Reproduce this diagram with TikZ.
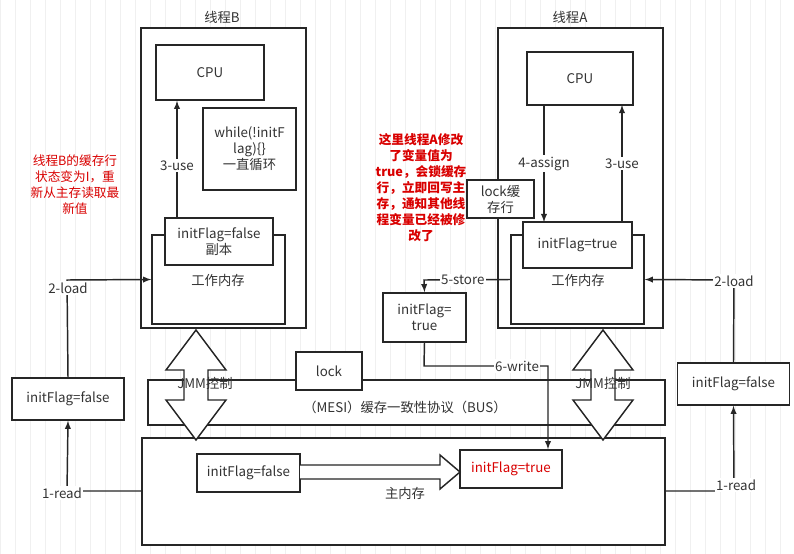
\documentclass[tikz,border=0pt]{standalone}
\usepackage{fontspec}
\setmainfont{Noto Sans CJK SC}
\begin{document}
\begin{tikzpicture}[x=0.75pt,y=-0.75pt,
  box/.style={draw=black!85,line width=1.2pt,fill=white},
  lbl/.style={font=\fontsize{10}{12}\selectfont,text=black!80},
  tag/.style={lbl,fill=white,inner sep=1pt},
  red/.style={font=\fontsize{9.5}{12}\selectfont,text=red!85!black,align=center},
  ln/.style={draw=black!85,line width=1.1pt},
  ar/.style={ln,-latex}]
\useasboundingbox (0,0) rectangle (794,554);
\fill[white] (0,0) rectangle (794,554);
\draw[black!6,line width=0.4pt] (0,0) grid[step=15] (794,554);
% thread B
\node[box,minimum width=165*0.75pt,minimum height=300*0.75pt] (tB) at (223.5,178) {};
\node[lbl] (tBl) at (222,17) {线程B};
\node[box,minimum width=108*0.75pt,minimum height=55*0.75pt,lbl] (cpuB) at (210,72.5) {CPU};
\node[box,minimum width=93*0.75pt,minimum height=82*0.75pt,lbl,align=center] (wh) at (249.5,149) {while(!initF\\lag)\{\}\\一直循环};
\node[box,minimum width=133*0.75pt,minimum height=89*0.75pt] (wmB) at (218.5,279.5) {};
\node[lbl] (wmBl) at (218,280) {工作内存};
\node[box,minimum width=108*0.75pt,minimum height=47*0.75pt,lbl,align=center,inner sep=1pt] (cB) at (219,241.5) {initFlag=false\\副本};
\draw[ar] (177,218) -- node[tag,pos=0.45] (u3B) {3-use} (cpuB.south -| 177,0);
% left side
\node[box,minimum width=112*0.75pt,minimum height=42*0.75pt,lbl] (lB) at (68,399) {initFlag=false};
\node[red] (rB) at (75,185) {线程B的缓存行\\状态变为I，重\\新从主存读取最\\新值};
% thread A
\node[box,minimum width=165*0.75pt,minimum height=300*0.75pt] (tA) at (580.5,178) {};
\node[lbl] (tAl) at (570,17) {线程A};
\node[box,minimum width=106*0.75pt,minimum height=53*0.75pt,lbl] (cpuA) at (580,78.5) {CPU};
\node[box,minimum width=133*0.75pt,minimum height=89*0.75pt] (wmA) at (577.5,279.5) {};
\node[lbl] (wmAl) at (578,280) {工作内存};
\node[box,minimum width=109*0.75pt,minimum height=46*0.75pt,lbl] (cA) at (577.5,245) {initFlag=true};
\node[box,minimum width=67*0.75pt,minimum height=38*0.75pt,lbl,align=center,inner sep=1pt] (lk) at (500.5,199) {lock缓\\存行};
\draw[ar] (544,105) -- node[tag,pos=0.5] (a4) {4-assign} (544,222);
\draw[ar] (622,222) -- node[tag,pos=0.5] (u3A) {3-use} (622,105);
\node[red,font=\bfseries\fontsize{9.5}{12}\selectfont] (rA) at (421,188) {这里线程A修改\\了变量值为\\true，会锁缓存\\行，立即回写主\\存，通知其他线\\程变量已经被修\\改了};
\node[box,minimum width=112*0.75pt,minimum height=42*0.75pt,lbl] (rBx) at (733.5,384) {initFlag=false};
% store box
\node[box,minimum width=83*0.75pt,minimum height=49*0.75pt,lbl,align=center,inner sep=1pt] (st) at (424.5,317.5) {initFlag=\\true};
% bus
\node[box,minimum width=517*0.75pt,minimum height=45*0.75pt] (bus) at (406.5,402.5) {};
\node[lbl] (busl) at (405,407) {（MESI）缓存一致性协议（BUS）};
\node[box,minimum width=66*0.75pt,minimum height=38*0.75pt,lbl] (lock) at (329,371) {lock};
% main memory
\node[box,minimum width=523*0.75pt,minimum height=107*0.75pt] (mm) at (403.5,491.5) {};
\node[lbl] (mml) at (405,493) {主内存};
\node[box,minimum width=103*0.75pt,minimum height=38*0.75pt,lbl] (mf) at (248.5,473) {initFlag=false};
\node[box,minimum width=102*0.75pt,minimum height=38*0.75pt,lbl,text=red!85!black] (mt) at (511,469) {initFlag=true};
\draw[box,line width=1.1pt] (300,465) -- (440,465) -- (440,455) -- (460,472) -- (440,489) -- (440,479) -- (300,479);
% JMM arrows
\foreach \cx/\nm in {196/jB,603/jA}{
  \draw[box,line width=1.1pt] (\cx,330) -- ++(30,40) -- ++(-18,0) -- ++(0,30) -- ++(18,0) -- (\cx,440) -- ++(-30,-40) -- ++(18,0) -- ++(0,-30) -- ++(-18,0) -- cycle;
}
\node[lbl,inner sep=0pt] (jBl) at (205,383) {JMM控制};
\node[lbl,inner sep=0pt] (jAl) at (603,383) {JMM控制};
% connectors
\coordinate (c5) at (424,280);
\draw[ar] (wmA.west) -- node[tag,pos=0.55] (s5) {5-store} (c5) -- (st.north);
\coordinate (c6a) at (424,366);
\coordinate (c6b) at (548,366);
\draw[ar] (st.south) -- (c6a) -- node[tag,pos=0.75] (w6) {6-write} (c6b) -- (mt.north -| c6b);
\coordinate (l2) at (67,280);
\draw[ar] (lB.north) -- (l2) -- (wmB.west);
\node[tag] (ld2B) at (68,288) {2-load};
\coordinate (l1) at (67,491);
\draw[ar] (mm.west |- l1) -- (l1) -- (lB.south);
\node[tag] (rd1B) at (62,493) {1-read};
\coordinate (r2) at (734,280);
\draw[ar] (rBx.north) -- (r2) -- (wmA.east);
\node[tag] (ld2A) at (734,281) {2-load};
\coordinate (r1) at (734,491);
\draw[ar] (mm.east |- r1) -- (r1) -- (rBx.south);
\node[tag] (rd1A) at (736,485) {1-read};
\end{tikzpicture}
\end{document}
